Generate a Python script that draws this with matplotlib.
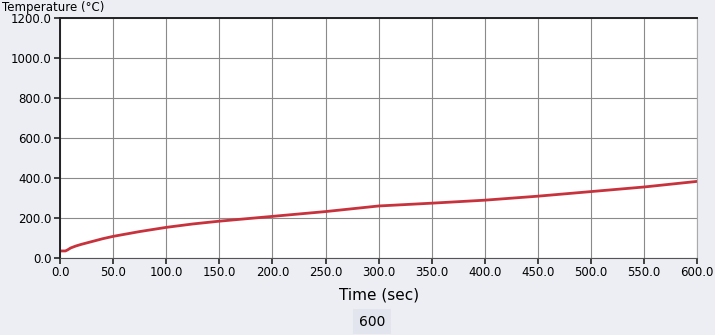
import matplotlib
matplotlib.use("Agg")
import matplotlib.pyplot as plt

time_s = [0, 5, 7, 10, 15, 20, 30, 40, 50, 75, 100, 125, 150, 175, 200,
          250, 300, 350, 400, 450, 500, 550, 600]
temp_c = [35, 35, 40, 50, 60, 68, 82, 96, 108, 132, 153, 170, 184, 196, 208,
          232, 260, 274, 289, 309, 332, 355, 383]
x_ticks = [0, 50, 100, 150, 200, 250, 300, 350, 400, 450, 500, 550, 600]
y_ticks = [0, 200, 400, 600, 800, 1000, 1200]

fig = plt.figure(figsize=(7.15, 3.35), dpi=100)
fig.patch.set_facecolor('#eceef3')
ax = fig.add_axes([0.084, 0.23, 0.891, 0.716])
ax.set_facecolor('white')
ax.plot(time_s, temp_c, color='#c8323c', lw=2)
ax.set_xlim(0, 600)
ax.set_ylim(0, 1200)
ax.set_xticks(x_ticks)
ax.set_xticklabels([f"{v:.1f}" for v in x_ticks], fontsize=8.5)
ax.set_yticks(y_ticks)
ax.set_yticklabels([f"{v:.1f}" for v in y_ticks], fontsize=8.5)
ax.grid(True, color='#8a8a8a', lw=0.8)
ax.tick_params(axis='both', length=4, width=1.2, color='#222222', pad=2)
for s in ['left', 'top']:
    ax.spines[s].set_color('#222222')
    ax.spines[s].set_linewidth(1.4)
ax.spines['bottom'].set_color('#555555')
ax.spines['right'].set_color('#aaaaaa')
ax.set_xlabel('Time (sec)', fontsize=11, labelpad=6)
fig.text(0.003, 0.998, 'Temperature (°C)', fontsize=8.5, va='top', ha='left')
fig.text(0.52, 0.04, '600', fontsize=10, ha='center', va='center',
         bbox=dict(boxstyle='square,pad=0.4', fc='#e2e5ee', ec='none'))
fig.savefig('out.png', dpi=100, facecolor=fig.get_facecolor())
